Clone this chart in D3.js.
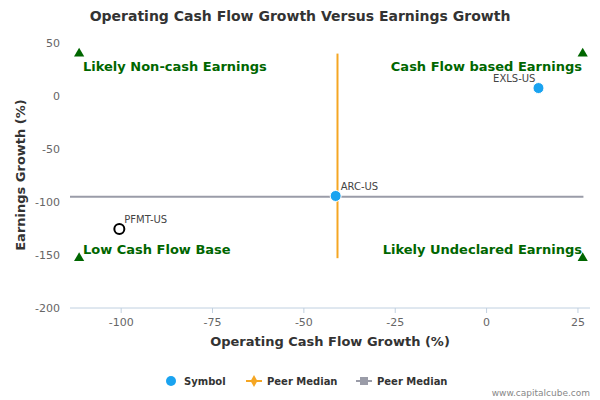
<!DOCTYPE html>
<html><head><meta charset="utf-8">
<script src="https://cdn.jsdelivr.net/npm/d3@7"></script>
<style>body{margin:0;background:#fff;font-family:"DejaVu Sans",sans-serif}</style>
</head><body><svg id="c" width="600" height="400"></svg>
<script>
var symbols = ["EXLS-US", "ARC-US", "PFMT-US"]
var cashGrowth = [14.2, -41.3, -100.5]
var earnGrowth = [7.5, -94.3, -125.5]
var peerMedianX = -40.8
var peerMedianY = -95
var xTicks = [-100, -75, -50, -25, 0, 25]
var yTicks = [50, 0, -50, -100, -150, -200]
var quadrants = ["Likely Non-cash Earnings", "Cash Flow based Earnings", "Low Cash Flow Base", "Likely Undeclared Earnings"]

var svg = d3.select("#c")
var x = d3.scaleLinear().domain([-114, 28.3]).range([70, 590])
var y = d3.scaleLinear().domain([50, -200]).range([43, 308])

svg.append("text").attr("x", 300).attr("y", 21).attr("text-anchor", "middle")
  .attr("font-size", 14).attr("font-weight", "bold").attr("fill", "#333").text("Operating Cash Flow Growth Versus Earnings Growth")

yTicks.forEach(function (t) {
  if (t == -200) svg.append("line").attr("x1", 70).attr("x2", 590).attr("y1", y(t)).attr("y2", y(t)).attr("stroke", "#c0d0e0")
  svg.append("text").attr("x", 60).attr("y", y(t) + 4).attr("text-anchor", "end")
    .attr("font-size", 11).attr("fill", "#666").text(t)
})
xTicks.forEach(function (t) {
  svg.append("line").attr("x1", x(t)).attr("x2", x(t)).attr("y1", 308).attr("y2", 313).attr("stroke", "#c0d0e0")
  svg.append("text").attr("x", x(t)).attr("y", 326).attr("text-anchor", "middle")
    .attr("font-size", 11).attr("fill", "#666").text(t)
})
svg.append("text").attr("x", 330).attr("y", 346).attr("text-anchor", "middle")
  .attr("font-size", 13).attr("font-weight", "bold").attr("fill", "#333").text("Operating Cash Flow Growth (%)")
svg.append("text").attr("transform", "translate(25,175) rotate(-90)").attr("text-anchor", "middle")
  .attr("font-size", 13).attr("font-weight", "bold").attr("fill", "#333").text("Earnings Growth (%)")

svg.append("line").attr("x1", x(peerMedianX)).attr("x2", x(peerMedianX)).attr("y1", y(40)).attr("y2", y(-153))
  .attr("stroke", "#f5a623").attr("stroke-width", 2)
svg.append("line").attr("x1", 70).attr("x2", x(26.5)).attr("y1", y(peerMedianY)).attr("y2", y(peerMedianY))
  .attr("stroke", "#9a9ca8").attr("stroke-width", 2)

var tri = d3.symbol().type(d3.symbolTriangle).size(45)
var qx = [-111.5, 26.3, -111.5, 26.3], qy = [40, 40, -153, -153]
quadrants.forEach(function (q, i) {
  svg.append("path").attr("d", tri).attr("transform", "translate(" + x(qx[i]) + "," + y(qy[i]) + ")").attr("fill", "#006600")
  var left = i % 2 == 0, top = i < 2
  svg.append("text").attr("x", left ? 83 : 582).attr("y", y(qy[i]) + (top ? 17 : -4))
    .attr("text-anchor", left ? "start" : "end").attr("font-size", 13).attr("font-weight", "bold")
    .attr("fill", "#006600").text(q)
})

symbols.forEach(function (s, i) {
  var px = x(cashGrowth[i]), py = y(earnGrowth[i])
  var hollow = s == "PFMT-US"
  svg.append("circle").attr("cx", px).attr("cy", py).attr("r", hollow ? 5 : 5.5)
    .attr("fill", hollow ? "#fff" : "#1aa3f0").attr("stroke", hollow ? "#000" : "#fff").attr("stroke-width", hollow ? 2 : 1)
  svg.append("text").attr("x", s == "EXLS-US" ? px - 3 : px + 5).attr("y", py - 6)
    .attr("text-anchor", s == "EXLS-US" ? "end" : "start").attr("font-size", 10).attr("fill", "#444").text(s)
})

var lg = svg.append("g").attr("font-size", 10).attr("font-weight", "bold").attr("fill", "#333")
lg.append("circle").attr("cx", 171).attr("cy", 381).attr("r", 5).attr("fill", "#1aa3f0")
lg.append("text").attr("x", 184).attr("y", 385).text("Symbol")
lg.append("line").attr("x1", 246).attr("x2", 262).attr("y1", 381).attr("y2", 381).attr("stroke", "#f5a623").attr("stroke-width", 2)
lg.append("path").attr("d", d3.symbol().type(d3.symbolDiamond).size(40)).attr("transform", "translate(254,381)").attr("fill", "#f5a623")
lg.append("text").attr("x", 267).attr("y", 385).text("Peer Median")
lg.append("line").attr("x1", 356).attr("x2", 372).attr("y1", 381).attr("y2", 381).attr("stroke", "#9a9ca8").attr("stroke-width", 2)
lg.append("rect").attr("x", 360).attr("y", 377).attr("width", 8).attr("height", 8).attr("fill", "#9a9ca8")
lg.append("text").attr("x", 377).attr("y", 385).text("Peer Median")

svg.append("text").attr("x", 590).attr("y", 396).attr("text-anchor", "end").attr("font-size", 9).attr("fill", "#888").text("www.capitalcube.com")
</script></body></html>
